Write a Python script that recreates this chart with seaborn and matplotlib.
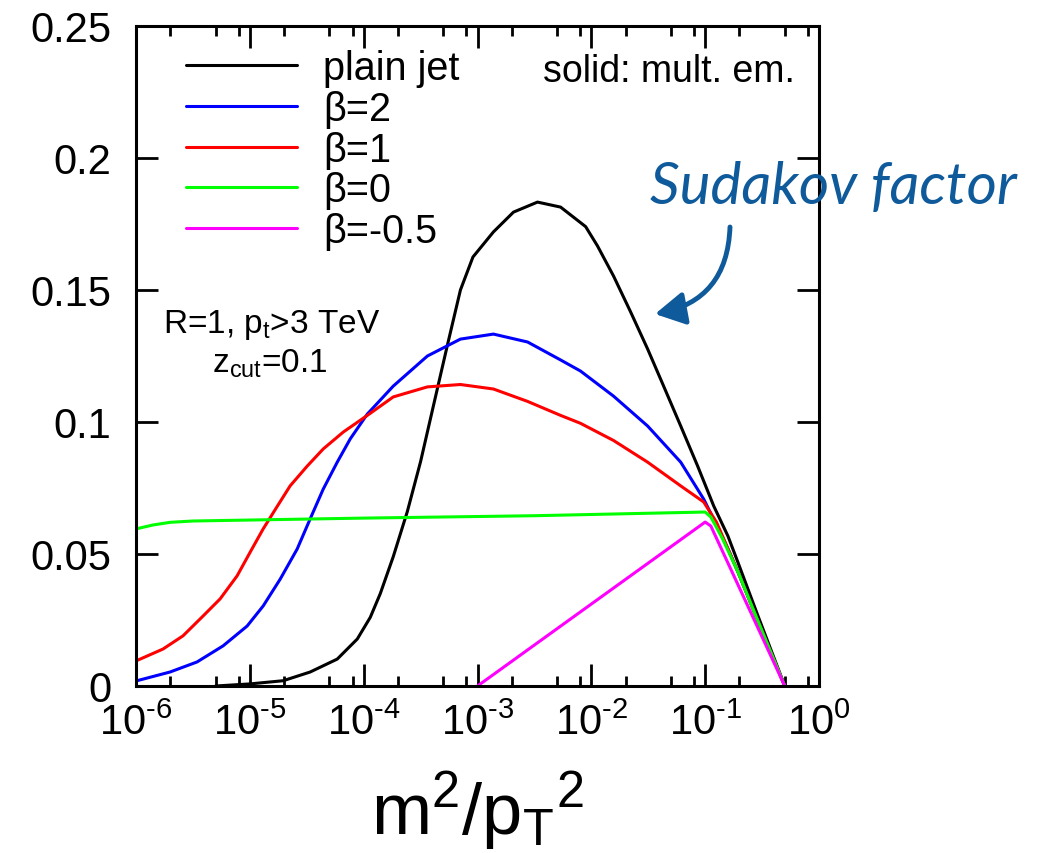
import numpy as np
import pandas as pd
import matplotlib
matplotlib.use("Agg")
import matplotlib.pyplot as plt
from matplotlib.ticker import LogLocator, NullFormatter
import seaborn as sns

# ---- curves: log10(m^2/pT^2) and the distribution value ----
plain_lx = [-5.3, -4.997, -4.707, -4.470, -4.232, -4.056, -3.942, -3.854, -3.74, -3.617,
            -3.50, -3.388, -3.265, -3.15, -3.04, -2.86, -2.684, -2.473, -2.27, -2.05,
            -1.946, -1.805, -1.655, -1.506, -1.365, -1.215, -1.066, -0.925, -0.80, -0.71,
            -0.54, -0.301]
plain_y = [0.0, 0.0008, 0.002, 0.0053, 0.0102, 0.0178, 0.026, 0.035, 0.049, 0.066,
           0.085, 0.106, 0.129, 0.150, 0.1625, 0.172, 0.1795, 0.1833, 0.1814, 0.174,
           0.1667, 0.1553, 0.1417, 0.1277, 0.1136, 0.0985, 0.0833, 0.0682, 0.0568, 0.0466,
           0.027, 0.0]

beta2_lx = [-6.0, -5.701, -5.464, -5.235, -5.024, -4.883, -4.733, -4.584, -4.470, -4.355,
            -4.232, -4.118, -3.968, -3.74, -3.44, -3.15, -2.86, -2.56, -2.27, -2.095,
            -1.805, -1.506, -1.215, -1.013, -0.9, -0.8, -0.71, -0.54, -0.301]
beta2_y = [0.0019, 0.0053, 0.0091, 0.0152, 0.0227, 0.0303, 0.0405, 0.0519, 0.0633, 0.0746,
           0.0848, 0.0936, 0.1030, 0.1136, 0.125, 0.1314, 0.1333, 0.1303, 0.1235, 0.1193,
           0.1098, 0.0985, 0.0848, 0.0708, 0.061, 0.052, 0.043, 0.025, 0.0]

beta1_lx = [-6.0, -5.763, -5.587, -5.411, -5.261, -5.112, -4.997, -4.883, -4.760, -4.646,
            -4.496, -4.355, -4.179, -3.968, -3.74, -3.44, -3.15, -2.86, -2.56, -2.27,
            -2.095, -1.805, -1.506, -1.215, -1.013, -0.9, -0.8, -0.71, -0.54, -0.301]
beta1_y = [0.0095, 0.014, 0.019, 0.0265, 0.033, 0.0417, 0.0507, 0.0595, 0.068, 0.0758,
           0.0833, 0.0898, 0.0962, 0.1025, 0.1095, 0.1133, 0.1142, 0.1125, 0.1078, 0.1025,
           0.0995, 0.0930, 0.0848, 0.0758, 0.0697, 0.062, 0.052, 0.043, 0.025, 0.0]

beta0_lx = [-6.0, -5.85, -5.7, -5.5, -4.0, -2.5, -1.0, -0.95, -0.85, -0.71, -0.54, -0.301]
beta0_y = [0.0595, 0.061, 0.062, 0.0625, 0.0636, 0.0645, 0.0659, 0.064, 0.056, 0.043, 0.025, 0.0]

betam05_lx = [-3.0, -1.0, -0.95, -0.301]
betam05_y = [0.0, 0.0621, 0.0606, 0.0]

curve_labels = ["plain jet", "β=2", "β=1", "β=0", "β=-0.5"]
curve_colors = ["#000000", "#0000ff", "#ff0000", "#00ff00", "#ff00ff"]

x_ticks = [1e-6, 1e-5, 1e-4, 1e-3, 1e-2, 1e-1, 1e0]
x_tick_labels = [r"$10^{\text{-}6}$", r"$10^{\text{-}5}$", r"$10^{\text{-}4}$",
                 r"$10^{\text{-}3}$", r"$10^{\text{-}2}$", r"$10^{\text{-}1}$", r"$10^{0}$"]
y_ticks = [0.0, 0.05, 0.1, 0.15, 0.2, 0.25]
y_tick_labels = ["0", "0.05", "0.1", "0.15", "0.2", "0.25"]

# ---- style ----
sns.set_theme(style="ticks")
plt.rcParams["font.family"] = ["Liberation Sans", "DejaVu Sans"]
plt.rcParams["mathtext.fontset"] = "custom"
plt.rcParams["mathtext.rm"] = "Liberation Sans"
plt.rcParams["mathtext.it"] = "Liberation Sans:italic"
plt.rcParams["mathtext.default"] = "regular"
plt.rcParams["text.color"] = "black"
plt.rcParams["axes.labelcolor"] = "black"

W, H = 1039, 854
fig = plt.figure(figsize=(W / 100, H / 100), dpi=100)
L, R, T, B = 136, 819, 27, 687
ax = fig.add_axes([L / W, 1 - B / H, (R - L) / W, (B - T) / H])

frames = []
for name, lx, y in zip(curve_labels,
                       [plain_lx, beta2_lx, beta1_lx, beta0_lx, betam05_lx],
                       [plain_y, beta2_y, beta1_y, beta0_y, betam05_y]):
    frames.append(pd.DataFrame({"x": np.power(10.0, lx), "y": y, "curve": name}))
df = pd.concat(frames, ignore_index=True)

sns.lineplot(data=df, x="x", y="y", hue="curve", hue_order=curve_labels,
             palette=dict(zip(curve_labels, curve_colors)), estimator=None,
             sort=True, linewidth=2.2, ax=ax)
for ln in ax.get_lines():
    ln.set_solid_joinstyle("round")

ax.set_xscale("log")
ax.set_xlim(1e-6, 1e0)
ax.set_ylim(0, 0.25)
ax.set_xticks(x_ticks, x_tick_labels)
ax.xaxis.set_minor_locator(LogLocator(base=10, subs=(2.0, 5.0, 8.0), numticks=20))
ax.xaxis.set_minor_formatter(NullFormatter())
ax.set_yticks(y_ticks, y_tick_labels)
ax.yaxis.set_minor_locator(plt.NullLocator())

for s in ax.spines.values():
    s.set_linewidth(2.2)
    s.set_color("black")
ax.tick_params(which="both", direction="in", top=True, right=True, width=2.0,
               colors="black", labelcolor="black")
ax.tick_params(which="major", length=16)
ax.tick_params(which="minor", length=7)
ax.tick_params(axis="y", which="major", labelsize=30, pad=18)
ax.tick_params(axis="x", which="major", labelsize=30, pad=12)

ax.set_ylabel("")
ax.set_xlabel(r"$m^2/p_T{}^2$", fontsize=52)
ax.xaxis.set_label_coords(0.5, (B - 834) / (B - T))
ax.xaxis.label.set_va("baseline")

# legend in the upper left corner
sns.move_legend(ax, "upper left", bbox_to_anchor=((186 - L) / (R - L), (B - 50) / (B - T)),
                title=None, frameon=False, fontsize=28.5, handlelength=2.8,
                handletextpad=0.66, labelspacing=0.07, borderpad=0, borderaxespad=0)
for h in ax.get_legend().get_lines():
    h.set_linewidth(2.2)


def ax_xy(px, py):
    return ((px - L) / (R - L), (B - py) / (B - T))


ax.text(*ax_xy(795, 82), "solid: mult. em.", transform=ax.transAxes,
        ha="right", va="baseline", fontsize=27)
ax.text(*ax_xy(272, 333), r"R=1, p$_t$>3 TeV", transform=ax.transAxes,
        ha="center", va="baseline", fontsize=24)
ax.text(*ax_xy(270, 373), r"z$_{cut}$=0.1", transform=ax.transAxes,
        ha="center", va="baseline", fontsize=24)

# annotation pointing at the plain-jet curve
blue = "#0f5a9b"
ax.text(*ax_xy(650, 204), "Sudakov factor", transform=ax.transAxes,
        ha="left", va="baseline", fontsize=42, style="italic",
        family="Lato", color=blue, clip_on=False)
ax.annotate("", xy=ax_xy(655, 315), xycoords="axes fraction",
            xytext=ax_xy(730, 228), textcoords="axes fraction",
            arrowprops=dict(arrowstyle="-|>,head_length=0.9,head_width=0.5",
                            connectionstyle="arc3,rad=-0.4", color=blue,
                            lw=3.5, mutation_scale=20, shrinkA=0, shrinkB=0),
            annotation_clip=False)

fig.savefig("out.png", dpi=100)
